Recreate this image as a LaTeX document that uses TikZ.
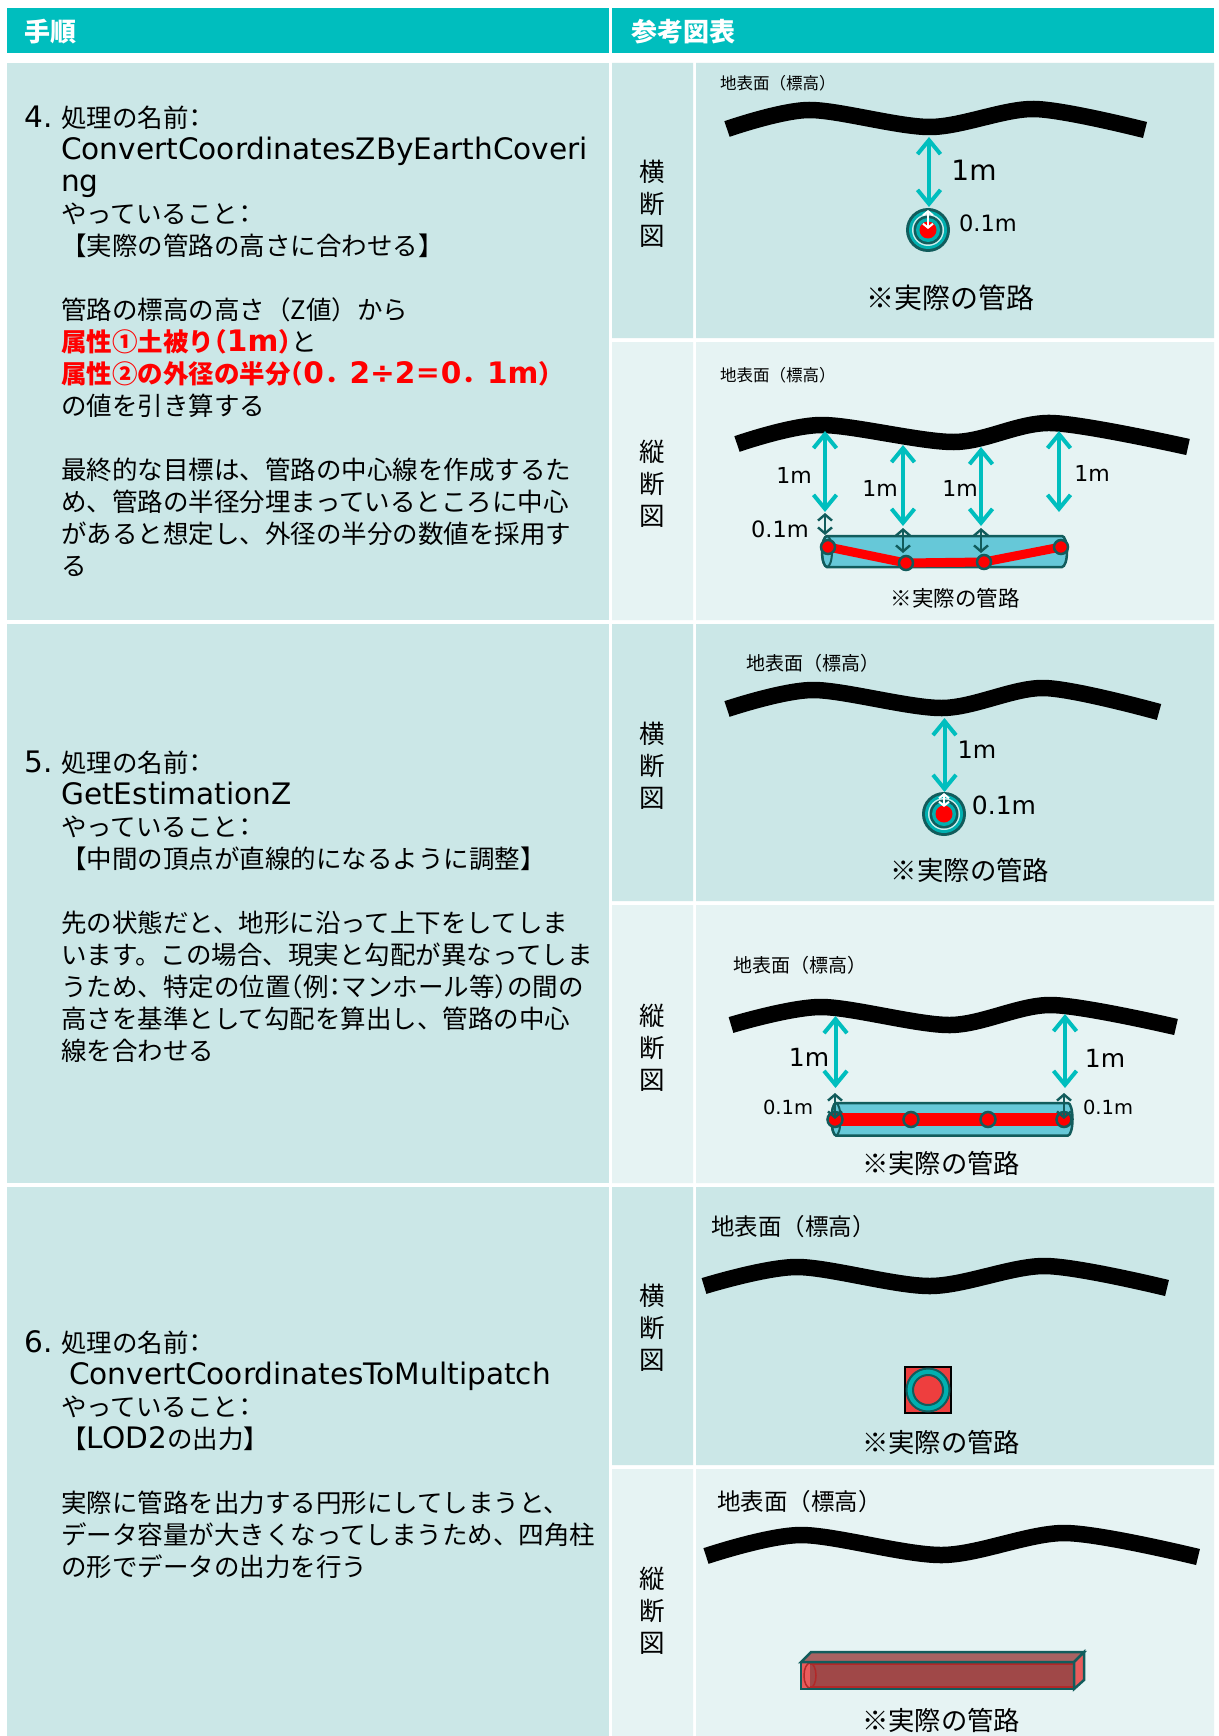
\documentclass[tikz,border=0pt]{standalone}
\usepackage{fontspec}
\setmainfont{Noto Sans CJK JP}
\newfontfamily\latfont[Scale=1.16]{DejaVu Sans}
\newfontfamily\numfont{DejaVu Sans}
\newfontfamily\halffont[RawFeature=+halt]{Noto Sans CJK JP}
\newcommand\lat[1]{{\latfont #1}}
\newcommand\jlp{{\halffont （}}
\newcommand\jrp{{\halffont ）}}
\newcommand\jcol{{\halffont ：}}
\usetikzlibrary{arrows.meta}
\definecolor{headteal}{RGB}{0,190,190}
\definecolor{bandA}{RGB}{203,231,231}
\definecolor{bandB}{RGB}{230,243,243}
\definecolor{arrowteal}{RGB}{0,190,190}
\definecolor{darkteal}{RGB}{18,92,92}
\definecolor{pipeblue}{RGB}{102,200,216}
\definecolor{ringteal}{RGB}{0,176,176}
\definecolor{ringlight}{RGB}{200,238,238}
\definecolor{boxred}{RGB}{238,62,62}
\definecolor{prismfront}{RGB}{160,72,72}
\definecolor{prismtop}{RGB}{168,98,98}
\definecolor{prismend}{RGB}{232,92,92}
\definecolor{prismrim}{RGB}{178,40,40}
\tikzset{
    head cell/.style={fill=headteal},
    dark cell/.style={fill=bandA},
    light cell/.style={fill=bandB},
    head text/.style={anchor=west,inner sep=0pt,text=white,font=\fontsize{26}{30}\selectfont\bfseries},
    step number/.style={anchor=base west,inner sep=0pt,font=\latfont\fontsize{25.5}{32}\selectfont},
    step text/.style={anchor=base west,inner sep=0pt,text width=560pt,align=left,font=\fontsize{25.5}{32}\selectfont},
    view label/.style={inner sep=0pt,align=center,font=\fontsize{25.5}{32}\selectfont},
    ground label/.style={anchor=west,inner sep=0pt,font=\fontsize{#1}{#1}\selectfont},
    pipe label/.style={inner sep=0pt,font=\fontsize{#1}{#1}\selectfont},
    size label/.style={inner sep=0pt,font=\numfont\fontsize{#1}{#1}\selectfont},
    ground line/.style={line width=16.5pt},
    cover arrow/.style={<->,>={Straight Barb[length=14pt,width=23pt]},arrowteal,line width=4pt},
    depth arrow/.style={<->,>={Straight Barb[length=6pt,width=14pt]},darkteal,line width=2.4pt},
    white arrow/.style={<->,>={Straight Barb[length=4pt,width=10pt]},white,line width=2pt},
    pipe shape/.style={fill=pipeblue,draw=darkteal,line width=2.5pt},
    pipe edge/.style={draw=darkteal,line width=2pt},
    axis line/.style={red,line width=#1},
    vertex dot/.style={circle,fill=red,draw=darkteal,line width=2.5pt,minimum size=#1,inner sep=0pt},
    vertex dot/.default=15pt,
    prism edge/.style={draw=darkteal,line width=2.5pt},
    prism rim/.style={draw=prismrim,line width=1.5pt},
}

\begin{document}
\begin{tikzpicture}[x=1pt,y=-1pt]
    \useasboundingbox[fill=white] (0,0) rectangle (1218,1736);
    \fill[head cell] (7,8) rectangle (609,53);
    \fill[head cell] (612,8) rectangle (1214,53);
    \foreach \a/\b/\c/\d in {63/338/342/620,624/901/905/1183,1187/1465/1469/1736}{
        \fill[dark cell] (7,\a) rectangle (609,\d);
        \fill[dark cell] (612,\a) rectangle (693,\b) (696,\a) rectangle (1214,\b);
        \fill[light cell] (612,\c) rectangle (693,\d) (696,\c) rectangle (1214,\d);
    }
    \node[head text] (headstep) at (24,32) {手順};
    \node[head text] (headref) at (631,32) {参考図表};

    \node[step number] (s4num) at (24,128) {4.};
    \node[step text] (s4text) at (61,128) {処理の名前\jcol\\
        \lat{ConvertCoordinatesZByEarthCoveri}\\
        \lat{ng}\\
        やっていること\jcol\\
        【実際の管路の高さに合わせる】\\[32pt]
        管路の標高の高さ（Z値）から\\
        {\color{red}\bfseries 属性①土被り\jlp\lat{1m}\jrp}と\\
        {\color{red}\bfseries 属性②の外径の半分\jlp\lat{0}．\lat{2÷2}＝\lat{0}．\lat{1m}\jrp}\\
        の値を引き算する\\[32pt]
        最終的な目標は、管路の中心線を作成するた\\
        め、管路の半径分埋まっているところに中心\\
        があると想定し、外径の半分の数値を採用す\\
        る};
    \node[step number] (s5num) at (24,772) {5.};
    \node[step text] (s5text) at (61,772) {処理の名前\jcol\\
        \lat{GetEstimationZ}\\
        やっていること\jcol\\
        【中間の頂点が直線的になるように調整】\\[32pt]
        先の状態だと、地形に沿って上下をしてしま\\
        います。この場合、現実と勾配が異なってしま\\
        うため、特定の位置\jlp 例\jcol マンホール等\jrp の間の\\
        高さを基準として勾配を算出し、管路の中心\\
        線を合わせる};
    \node[step number] (s6num) at (24,1352) {6.};
    \node[step text] (s6text) at (61,1352) {処理の名前\jcol\\
        \hspace*{8pt}\lat{ConvertCoordinatesToMultipatch}\\
        やっていること\jcol\\
        【\lat{LOD2}の出力】\\[32pt]
        実際に管路を出力する円形にしてしまうと、\\
        データ容量が大きくなってしまうため、四角柱\\
        の形でデータの出力を行う};

    \foreach \y/\t [count=\i] in {204/横,484/縦,766/横,1048/縦,1328/横,1611/縦}
        \node[view label] (view\i) at (652.5,\y) {\t\\断\\図};

    % step 4, cross section
    \node[ground label=16.5] (gl1) at (720,83) {地表面（標高）};
    \draw[ground line] plot[smooth] coordinates {(727,129) (809,110) (930,127) (1034,109) (1145,130)};
    \coordinate (c1) at (928,230);
    \foreach \r/\c in {22/darkteal,19/ringteal,16/ringlight,14.5/darkteal,12/ringteal,8.5/red}
        \fill[\c] (c1) circle[radius=\r];
    \draw[cover arrow] (929,137) -- (929,207);
    \draw[white arrow] (928,210) -- (928,229);
    \node[size label=28] (m1) at (974,170) {1m};
    \node[size label=22.5] (d1) at (988,223) {0.1m};
    \node[pipe label=28] (p1) at (950,298) {※実際の管路};

    % step 4, longitudinal section
    \node[ground label=16.5] (gl2) at (720,375) {地表面（標高）};
    \draw[ground line] plot[smooth] coordinates {(737,444) (821,425) (954,442) (1051,423) (1188,447)};
    \draw[pipe shape] (827,536) -- (1062,536) arc[start angle=90,end angle=-90,x radius=5pt,y radius=15.5pt]
        -- (827,567) arc[start angle=270,end angle=90,x radius=5pt,y radius=15.5pt] -- cycle;
    \draw[pipe edge] (827,551.5) ellipse[x radius=5pt,y radius=15.5pt];
    \foreach \x/\y [count=\i] in {828/547,906/563,984/562,1061/547}
        \coordinate (a\i) at (\x,\y);
    \draw[axis line=9pt] (a1) -- (a2) -- (a3) -- (a4);
    \foreach \i in {1,...,4}
        \node[vertex dot=14pt] (va\i) at (a\i) {};
    \foreach \x/\a/\b in {825/431/512,903/445/526,981/447/526,1059/431/512}
        \draw[cover arrow] (\x,\a) -- (\x,\b);
    \draw[depth arrow] (825,513) -- (825,535);
    \draw[depth arrow] (903,528) -- (903,553);
    \draw[depth arrow] (981,528) -- (981,553);
    \foreach \x/\y [count=\i] in {794/475,880/488,960/488,1092/473}
        \node[size label=22] (m2\i) at (\x,\y) {1m};
    \node[size label=22.5] (d2) at (780,529) {0.1m};
    \node[pipe label=21.5] (p2) at (955,598) {※実際の管路};

    % step 5, cross section
    \node[ground label=19] (gl3) at (746,663) {地表面（標高）};
    \draw[ground line] plot[smooth] coordinates {(727,709) (813,690) (942,708) (1044,688) (1159,712)};
    \coordinate (c3) at (944,814);
    \foreach \r/\c in {22/darkteal,19/ringteal,16/ringlight,14.5/darkteal,12/ringteal,8.5/red}
        \fill[\c] (c3) circle[radius=\r];
    \draw[cover arrow] (944.5,718) -- (944.5,792);
    \draw[white arrow] (944,793) -- (944,807);
    \node[size label=24] (m3) at (977,750) {1m};
    \node[size label=25] (d3) at (1004,805) {0.1m};
    \node[pipe label=26.4] (p3) at (970,870) {※実際の管路};

    % step 5, longitudinal section
    \node[ground label=19] (gl4) at (733,965) {地表面（標高）};
    \draw[ground line] plot[smooth] coordinates {(731,1025) (821,1007) (950,1025) (1051,1005) (1176,1027)};
    \draw[pipe shape] (836,1103) -- (1068,1103) arc[start angle=90,end angle=-90,x radius=4.5pt,y radius=16.25pt]
        -- (836,1135.5) arc[start angle=270,end angle=90,x radius=4.5pt,y radius=16.25pt] -- cycle;
    \draw[pipe edge] (836,1119.25) ellipse[x radius=4.5pt,y radius=16.25pt];
    \foreach \x [count=\i] in {835,911,988,1064}
        \coordinate (b\i) at (\x,1119.5);
    \draw[axis line=12.5pt] (b1) -- (b4);
    \foreach \i in {1,...,4}
        \node[vertex dot] (vb\i) at (b\i) {};
    \draw[cover arrow] (835.5,1016) -- (835.5,1088);
    \draw[cover arrow] (1065,1014) -- (1065,1088);
    \draw[depth arrow] (835,1093) -- (835,1119);
    \draw[depth arrow] (1064,1093) -- (1064,1119);
    \node[size label=25] (m4a) at (809,1057) {1m};
    \node[size label=25] (m4b) at (1105,1058) {1m};
    \node[size label=19.5] (d4a) at (788,1107) {0.1m};
    \node[size label=19.5] (d4b) at (1108,1107) {0.1m};
    \node[pipe label=26.3] (p4) at (941,1163) {※実際の管路};

    % step 6, cross section
    \node[ground label=23.5] (gl5) at (711,1227) {地表面（標高）};
    \draw[ground line] plot[smooth] coordinates {(704,1286) (797,1267) (930,1286) (1045,1266) (1167,1288)};
    \coordinate (c5) at (928,1390);
    \draw[fill=boxred,line width=2pt] (905,1367) rectangle (951,1413);
    \draw[fill=ringteal,draw=darkteal,line width=2pt] (c5) circle[radius=21.5];
    \draw[fill=boxred,draw=darkteal,line width=2pt] (c5) circle[radius=15];
    \node[pipe label=26.3] (p5) at (941,1442) {※実際の管路};

    % step 6, longitudinal section
    \node[ground label=23.5] (gl6) at (717,1502) {地表面（標高）};
    \draw[ground line] plot[smooth] coordinates {(706,1556) (801,1535) (942,1555) (1065,1533) (1198,1557)};
    \fill[prismfront] (801,1662) rectangle (1074,1689);
    \fill[prismend] (801,1662) rectangle (810,1689);
    \draw[prism rim] (810,1675.5) ellipse[x radius=6pt,y radius=12.5pt];
    \draw[prism rim] (810,1664) -- (1074,1664) (810,1687) -- (1074,1687);
    \filldraw[prism edge,fill=prismtop] (801,1662) -- (811,1652) -- (1084,1652) -- (1074,1662) -- cycle;
    \filldraw[prism edge,fill=prismend] (1074,1662) -- (1084,1652) -- (1084,1680) -- (1074,1689) -- cycle;
    \draw[prism edge] (801,1662) rectangle (1074,1689);
    \node[pipe label=26.3] (p6) at (941,1720) {※実際の管路};
\end{tikzpicture}
\end{document}
